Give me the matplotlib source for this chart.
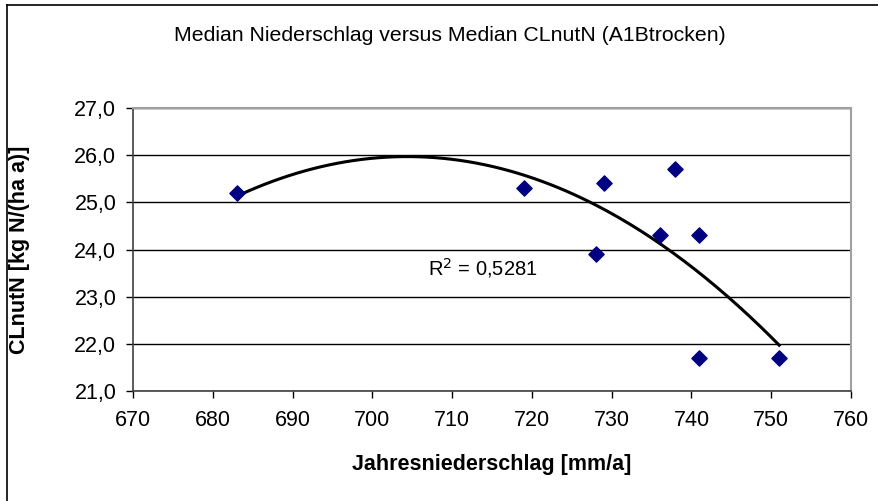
import numpy as np
import matplotlib.pyplot as plt
from matplotlib.lines import Line2D
from matplotlib.ticker import FuncFormatter, MultipleLocator

plt.rcParams['font.family'] = ['Liberation Sans', 'DejaVu Sans']

# Median Jahresniederschlag [mm/a] und Median CLnutN [kg N/(ha a)]
niederschlag = [683, 719, 728, 729, 736, 738, 741, 741, 751]
clnutn = [25.2, 25.3, 23.9, 25.4, 24.3, 25.7, 24.3, 21.7, 21.7]
r2_text = "R$^2$ = 0,5281"

W, H = 879, 501
fig = plt.figure(figsize=(W / 100, H / 100), dpi=100)
ax = fig.add_axes([133 / W, (H - 391) / H, 718 / W, 283 / H])

# Polynom 2. Ordnung als Trendlinie
coef = np.polyfit(niederschlag, clnutn, 2)
xs = np.linspace(min(niederschlag), max(niederschlag), 200)
ax.plot(xs, np.polyval(coef, xs), color='black', lw=2.2, zorder=3)

ax.scatter(niederschlag, clnutn, marker='D', s=60, color='#000080', zorder=4)

ax.set_xlim(670, 760)
ax.set_ylim(21, 27)
ax.xaxis.set_major_locator(MultipleLocator(10))
ax.yaxis.set_major_locator(MultipleLocator(1))
ax.yaxis.set_major_formatter(FuncFormatter(lambda v, p: f"{v:.1f}".replace('.', ',')))
ax.grid(axis='y', color='black', lw=1.0)
ax.set_axisbelow(True)

for s in ['top', 'right']:
    ax.spines[s].set_color('#a0a0a0')
    ax.spines[s].set_linewidth(1.5)
for s in ['left', 'bottom']:
    ax.spines[s].set_color('#404040')
    ax.spines[s].set_linewidth(1.2)
ax.tick_params(direction='out', length=5, width=1, labelsize=15.5)
ax.tick_params(axis='y', pad=7)
ax.tick_params(axis='x', pad=9)

ax.text(707, 23.61, r2_text, fontsize=14.5, va='center', ha='left')

fig.text(492 / W, 1 - 470 / H, 'Jahresniederschlag [mm/a]', fontsize=15.5,
         fontweight='bold', ha='center', va='baseline')
fig.text(20 / W, 1 - 250 / H, 'CLnutN [kg N/(ha a)]', fontsize=15.5,
         fontweight='bold', ha='center', va='center', rotation=90)
fig.text(450 / W, 1 - 41 / H, 'Median Niederschlag versus Median CLnutN (A1Btrocken)',
         fontsize=15.3, ha='center', va='baseline')

# Rahmen des Diagrammbereichs (nur links und oben sichtbar)
fig.add_artist(Line2D([7 / W, 7 / W], [0, 1 - 5 / H], color='black', lw=1.2))
fig.add_artist(Line2D([7 / W, 1], [1 - 5 / H, 1 - 5 / H], color='black', lw=1.2))

fig.savefig('out.png', dpi=100)
